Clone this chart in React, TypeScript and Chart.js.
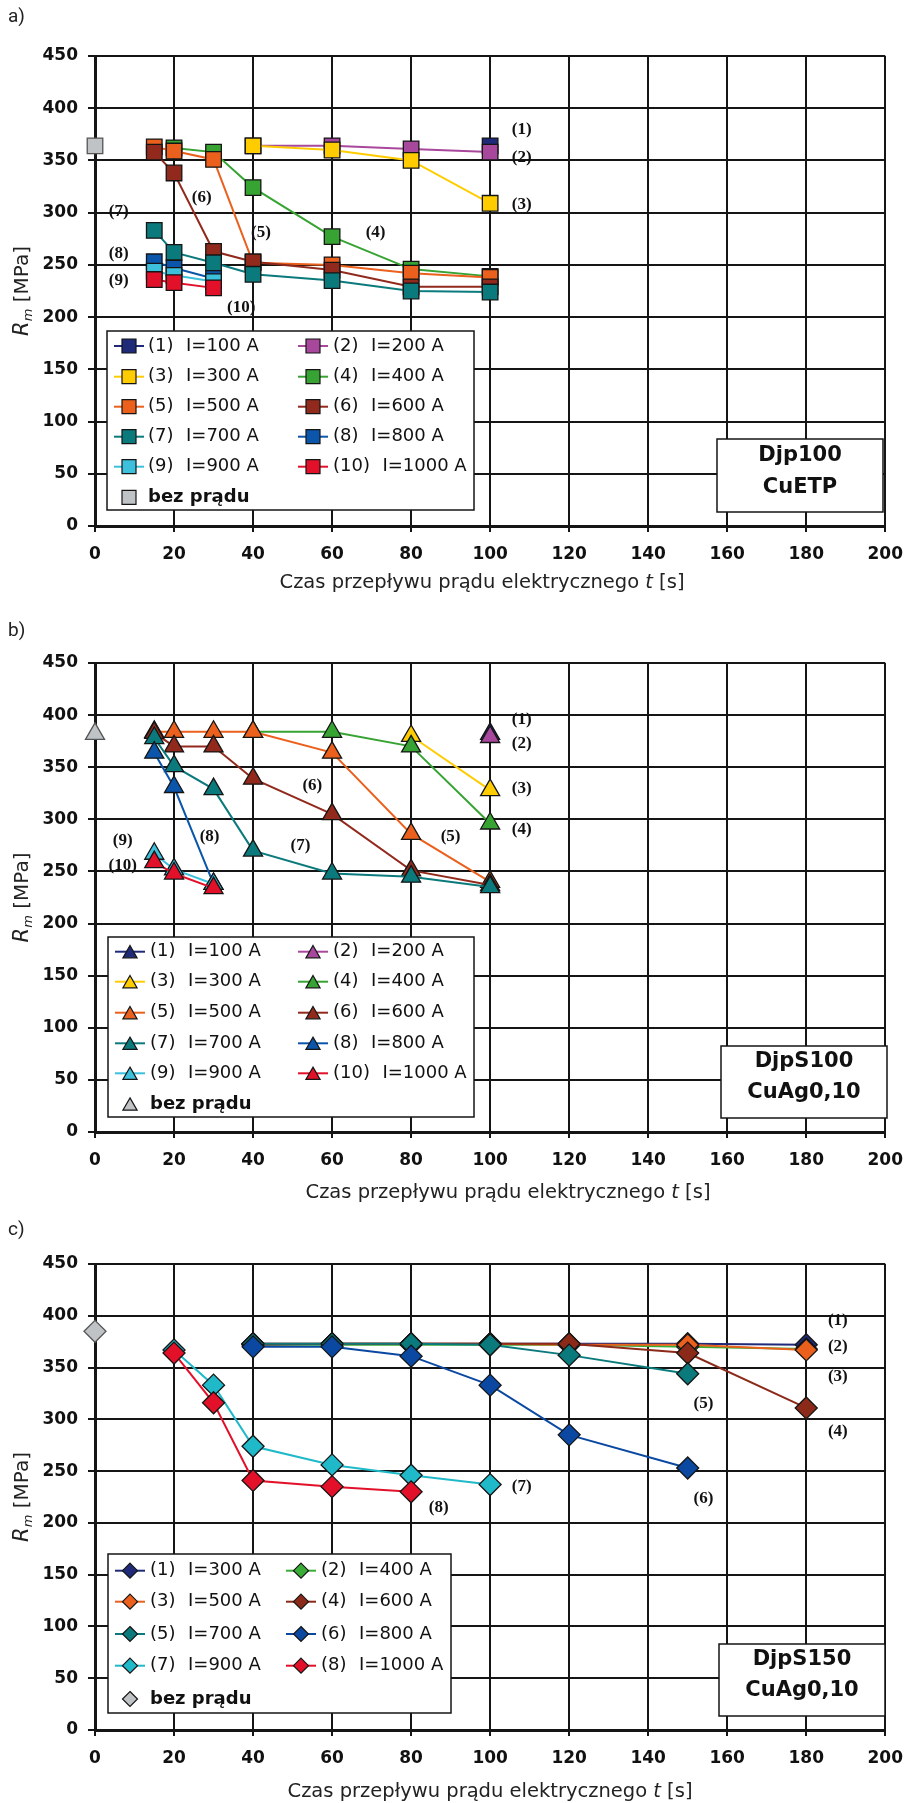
import React, { useEffect, useRef } from 'react';
import { Chart, registerables } from 'chart.js';

Chart.register(...registerables);

// ---------------- Panel a) Djp100 CuETP ----------------
const aTimes = [15, 20, 30, 40, 60, 80, 100];
const aI100 = [null, null, null, null, null, null, 364];
const aI200 = [null, null, null, 364, 364, 361, 358];
const aI300 = [null, null, null, 364, 360, 350, 309];
const aI400 = [null, 362, 358, 324, 277, 246, 239];
const aI500 = [363, 359, 351, 252, 250, 242, 238];
const aI600 = [358, 338, 263, 253, 245, 229, 229];
const aI700 = [283, 262, 252, 241, 235, 225, 224];
const aI800 = [253, 247, 237, null, null, null, null];
const aI900 = [244, 240, 234, null, null, null, null];
const aI1000 = [236, 233, 228, null, null, null, null];
const aBase = 364;
const aNums = ['(1)', '(2)', '(3)', '(4)', '(5)', '(6)', '(7)', '(8)', '(9)', '(10)'];
const aCurrents = ['I=100 A', 'I=200 A', 'I=300 A', 'I=400 A', 'I=500 A', 'I=600 A', 'I=700 A', 'I=800 A', 'I=900 A', 'I=1000 A'];
const aNoteT = [108, 108, 108, 71, 42, 27, 6, 6, 6, 37];
const aNoteR = [380, 353, 308, 281, 281, 314, 301, 261, 235, 209];

// ---------------- Panel b) DjpS100 CuAg0,10 ----------------
const bTimes = [15, 20, 30, 40, 60, 80, 100];
const bI100 = [null, null, null, null, null, null, 382];
const bI200 = [null, null, null, null, null, null, 379];
const bI300 = [null, null, null, null, null, 380, 328];
const bI400 = [null, null, null, 384, 384, 370, 296];
const bI500 = [384, 384, 384, 384, 364, 286, 240];
const bI600 = [383, 370, 370, 339, 305, 251, 237];
const bI700 = [378, 351, 329, 270, 248, 245, 235];
const bI800 = [364, 331, 238, null, null, null, null];
const bI900 = [267, 252, 238, null, null, null, null];
const bI1000 = [259, 248, 234, null, null, null, null];
const bBase = 382;
const bNums = aNums;
const bCurrents = aCurrents;
const bNoteT = [108, 108, 108, 108, 90, 55, 52, 29, 7, 7];
const bNoteR = [396, 373, 329, 290, 283, 332, 275, 283, 280, 256];

// ---------------- Panel c) DjpS150 CuAg0,10 ----------------
const cTimes = [20, 30, 40, 60, 80, 100, 120, 150, 180];
const cI300 = [null, null, 373, 373, 373, 373, 373, 373, 372];
const cI400 = [null, null, 372, 372, 372, 372, 372, 370, 368];
const cI500 = [null, null, 373, 373, 373, 373, 372, 372, 367];
const cI600 = [null, null, 372, 373, 373, 373, 373, 364, 311];
const cI700 = [null, null, 373, 373, 373, 372, 362, 344, null];
const cI800 = [null, null, 370, 370, 361, 333, 285, 253, null];
const cI900 = [367, 333, 274, 256, 246, 237, null, null, null];
const cI1000 = [364, 316, 241, 235, 230, null, null, null, null];
const cBase = 385;
const cNums = ['(1)', '(2)', '(3)', '(4)', '(5)', '(6)', '(7)', '(8)'];
const cCurrents = ['I=300 A', 'I=400 A', 'I=500 A', 'I=600 A', 'I=700 A', 'I=800 A', 'I=900 A', 'I=1000 A'];
const cNoteT = [188, 188, 188, 188, 154, 154, 108, 87];
const cNoteR = [395, 370, 341, 288, 315, 223, 235, 215];

const BASE_LABEL = 'bez prądu';
const X_TICK_MAX = 200;
const X_STEP = 20;
const Y_TICK_MAX = 450;
const Y_STEP = 50;

// ---------------- styles ----------------
const colors10 = ['#1f2a78', '#a8489c', '#ffcc00', '#36a332', '#ea601c', '#912a1c', '#0b7a7c', '#0b56aa', '#3cc0dc', '#e3102a'];
const colors8 = ['#1f2a78', '#3aad36', '#ea601c', '#8c2a1a', '#0b7a7c', '#0a48a2', '#1fb9c9', '#e3102a'];
const GRAY = '#c0c3c6';
const INK = '#151515';
const SANS = '"DejaVu Sans"';

type Cfg = {
  top: number; height: number; areaTop: number; areaBottom: number; areaRight: number;
  times: number[]; series: (number | null)[][]; colors: string[]; nums: string[]; currents: string[];
  base: number; pointStyle: string; noteT: number[]; noteR: number[];
  tag: string; tagY: number; mat: string[]; matBox: number[]; matLines: number[];
  legBox: number[]; legRows: number[]; legMarkX: number[]; legNumX: number[];
  xTitleX: number; xTitleY: number;
};

const panels: Cfg[] = [
  {
    top: 0, height: 600, areaTop: 56, areaBottom: 526, areaRight: 896,
    times: aTimes, series: [aI100, aI200, aI300, aI400, aI500, aI600, aI700, aI800, aI900, aI1000],
    colors: colors10, nums: aNums, currents: aCurrents, base: aBase, pointStyle: 'rect',
    noteT: aNoteT, noteR: aNoteR, tag: 'a)', tagY: 17, mat: ['Djp100', 'CuETP'],
    matBox: [717, 439, 883, 512], matLines: [456, 488],
    legBox: [107, 331, 474, 510], legRows: [346, 376.7, 406.7, 436.7, 466.7, 497.3], legMarkX: [129, 313], legNumX: [148, 333],
    xTitleX: 482, xTitleY: 583,
  },
  {
    top: 600, height: 610, areaTop: 63, areaBottom: 532, areaRight: 898,
    times: bTimes, series: [bI100, bI200, bI300, bI400, bI500, bI600, bI700, bI800, bI900, bI1000],
    colors: colors10, nums: bNums, currents: bCurrents, base: bBase, pointStyle: 'triangle',
    noteT: bNoteT, noteR: bNoteR, tag: 'b)', tagY: 31, mat: ['DjpS100', 'CuAg0,10'],
    matBox: [721, 446, 887, 518], matLines: [462, 493],
    legBox: [108, 337, 474, 517], legRows: [351.7, 381.7, 412.7, 443.3, 473.3, 504], legMarkX: [130, 313], legNumX: [150, 333],
    xTitleX: 508, xTitleY: 593,
  },
  {
    top: 1205, height: 598, areaTop: 59, areaBottom: 525, areaRight: 896,
    times: cTimes, series: [cI300, cI400, cI500, cI600, cI700, cI800, cI900, cI1000],
    colors: colors8, nums: cNums, currents: cCurrents, base: cBase, pointStyle: 'rectRot',
    noteT: cNoteT, noteR: cNoteR, tag: 'c)', tagY: 25, mat: ['DjpS150', 'CuAg0,10'],
    matBox: [719, 439, 885, 511], matLines: [455, 486],
    legBox: [108, 349, 451, 508], legRows: [365.7, 396.7, 429, 460.7, 494], legMarkX: [130, 301], legNumX: [150, 321],
    xTitleX: 490, xTitleY: 587,
  },
];

function drawMarker(ctx: CanvasRenderingContext2D, style: string, x: number, y: number, fill: string) {
  ctx.beginPath();
  if (style === 'rect') {
    const s = 7;
    ctx.rect(x - s, y - s, 2 * s, 2 * s);
  } else if (style === 'triangle') {
    const r = 8.2;
    const cy = y + r / 4;
    ctx.moveTo(x, cy - r);
    ctx.lineTo(x + 0.866 * r, cy + r / 2);
    ctx.lineTo(x - 0.866 * r, cy + r / 2);
    ctx.closePath();
  } else {
    const r = 7.5;
    ctx.moveTo(x, y - r);
    ctx.lineTo(x + r, y);
    ctx.lineTo(x, y + r);
    ctx.lineTo(x - r, y);
    ctx.closePath();
  }
  ctx.fillStyle = fill;
  ctx.fill();
  ctx.lineWidth = 1.2;
  ctx.strokeStyle = INK;
  ctx.stroke();
}

function decorPlugin(cfg: Cfg) {
  return {
    id: 'decor' + cfg.tag,
    afterDraw(chart: any) {
      const ctx: CanvasRenderingContext2D = chart.ctx;
      const xs = chart.scales.x;
      const ys = chart.scales.y;
      const area = chart.chartArea;
      ctx.save();
      ctx.fillStyle = '#222';
      ctx.textBaseline = 'middle';

      // panel tag
      ctx.textAlign = 'left';
      ctx.font = '19px Roboto';
      ctx.fillText(cfg.tag, 8, cfg.tagY);

      // curve annotations
      ctx.font = 'bold 17px "Liberation Serif"';
      ctx.textAlign = 'center';
      ctx.fillStyle = '#111';
      for (let i = 0; i < cfg.nums.length; i++) {
        ctx.fillText(cfg.nums[i], xs.getPixelForValue(cfg.noteT[i]), ys.getPixelForValue(cfg.noteR[i]));
      }

      // y axis title  R_m [MPa]
      ctx.save();
      ctx.translate(23, (area.top + area.bottom) / 2);
      ctx.rotate(-Math.PI / 2);
      ctx.textAlign = 'left';
      ctx.fillStyle = '#222';
      const fR = 'italic 21px ' + SANS, fm = 'italic 13px ' + SANS, fU = '20px ' + SANS;
      ctx.font = fR; const wR = ctx.measureText('R').width;
      ctx.font = fm; const wm = ctx.measureText('m').width;
      ctx.font = fU; const wU = ctx.measureText(' [MPa]').width;
      let px = -(wR + wm + wU) / 2;
      ctx.font = fR; ctx.fillText('R', px, 0); px += wR;
      ctx.font = fm; ctx.fillText('m', px, 6); px += wm;
      ctx.font = fU; ctx.fillText(' [MPa]', px, 0);
      ctx.restore();

      // x axis title
      {
        ctx.textAlign = 'left';
        ctx.fillStyle = '#222';
        const p1 = 'Czas przepływu prądu elektrycznego ', p2 = 't', p3 = ' [s]';
        const f1 = '19.5px ' + SANS, f2 = 'italic 19.5px ' + SANS;
        ctx.font = f1; const w1 = ctx.measureText(p1).width; const w3 = ctx.measureText(p3).width;
        ctx.font = f2; const w2 = ctx.measureText(p2).width;
        let x = cfg.xTitleX - (w1 + w2 + w3) / 2;
        ctx.font = f1; ctx.fillText(p1, x, cfg.xTitleY); x += w1;
        ctx.font = f2; ctx.fillText(p2, x, cfg.xTitleY); x += w2;
        ctx.font = f1; ctx.fillText(p3, x, cfg.xTitleY);
      }

      // legend
      {
        const [l, t, r, b] = cfg.legBox;
        ctx.fillStyle = '#fff';
        ctx.fillRect(l, t, r - l, b - t);
        ctx.lineWidth = 1.5;
        ctx.strokeStyle = INK;
        ctx.strokeRect(l, t, r - l, b - t);
        const ds = chart.data.datasets;
        for (let i = 0; i < cfg.nums.length; i++) {
          const col = i % 2, row = Math.floor(i / 2);
          const y = cfg.legRows[row];
          const mx = cfg.legMarkX[col];
          ctx.beginPath();
          ctx.moveTo(mx - 15, y);
          ctx.lineTo(mx + 15, y);
          ctx.strokeStyle = ds[i].borderColor;
          ctx.lineWidth = 2;
          ctx.stroke();
          drawMarker(ctx, cfg.pointStyle, mx, y, ds[i].pointBackgroundColor);
          ctx.fillStyle = '#111';
          ctx.textAlign = 'left';
          ctx.font = '18px ' + SANS;
          const nx = cfg.legNumX[col];
          ctx.fillText(cfg.nums[i], nx, y);
          const wn = ctx.measureText(cfg.nums[i]).width;
          ctx.fillText(cfg.currents[i], nx + wn + 12.5, y);
        }
        const by = cfg.legRows[Math.ceil(cfg.nums.length / 2)];
        drawMarker(ctx, cfg.pointStyle, cfg.legMarkX[0], by, GRAY);
        ctx.fillStyle = '#111';
        ctx.font = 'bold 18px ' + SANS;
        ctx.fillText(BASE_LABEL, cfg.legNumX[0], by);
      }

      // material box
      {
        const [l, t, r, b] = cfg.matBox;
        ctx.fillStyle = '#fff';
        ctx.fillRect(l, t, r - l, b - t);
        ctx.lineWidth = 1.5;
        ctx.strokeStyle = INK;
        ctx.strokeRect(l, t, r - l, b - t);
        ctx.fillStyle = '#111';
        ctx.textAlign = 'center';
        ctx.font = 'bold 21px ' + SANS;
        ctx.fillText(cfg.mat[0], (l + r) / 2, cfg.matLines[0]);
        ctx.fillText(cfg.mat[1], (l + r) / 2, cfg.matLines[1]);
      }
      ctx.restore();
    },
  };
}

function buildChart(canvas: HTMLCanvasElement, cfg: Cfg) {
  const n = cfg.series.length;
  const datasets: any[] = cfg.series.map((s, i) => ({
    label: cfg.nums[i] + ' ' + cfg.currents[i],
    data: cfg.times.map((t, j) => ({ x: t, y: s[j] })).filter((p) => p.y !== null),
    borderColor: cfg.colors[i],
    backgroundColor: cfg.colors[i],
    pointBackgroundColor: cfg.colors[i],
    pointBorderColor: INK,
    pointBorderWidth: 1.3,
    pointStyle: cfg.pointStyle,
    pointRadius: 11,
    borderWidth: 2,
    showLine: true,
    clip: false,
    order: n - i + 1,
  }));
  datasets.push({
    label: BASE_LABEL,
    data: [{ x: 0, y: cfg.base }],
    borderColor: GRAY,
    backgroundColor: GRAY,
    pointBackgroundColor: GRAY,
    pointBorderColor: '#555',
    pointBorderWidth: 1.3,
    pointStyle: cfg.pointStyle,
    pointRadius: 11,
    showLine: false,
    clip: false,
    order: 0,
  });
  const tickFont = { family: SANS, size: 17, weight: 'bold' as const };
  return new Chart(canvas, {
    type: 'scatter',
    data: { datasets },
    options: {
      animation: false,
      responsive: false,
      layout: { padding: { top: cfg.areaTop, right: 915 - cfg.areaRight, left: 0, bottom: 0 } },
      plugins: { legend: { display: false }, tooltip: { enabled: false } },
      scales: {
        x: {
          type: 'linear', min: 0, max: X_TICK_MAX,
          ticks: { stepSize: X_STEP, font: tickFont, color: '#111', padding: 12, maxRotation: 0, autoSkip: false },
          grid: { color: INK, lineWidth: 2, tickLength: 6 },
          border: { color: INK, width: 3 },
          afterFit: (s: any) => { s.height = cfg.height - cfg.areaBottom; },
        },
        y: {
          type: 'linear', min: 0, max: Y_TICK_MAX,
          ticks: { stepSize: Y_STEP, font: tickFont, color: '#111', padding: 10 },
          grid: { color: INK, lineWidth: 2, tickLength: 7 },
          border: { color: INK, width: 3 },
          afterFit: (s: any) => { s.width = 95; },
        },
      },
    },
    plugins: [decorPlugin(cfg)],
  } as any);
}

function Panel({ cfg }: { cfg: Cfg }) {
  const ref = useRef<HTMLCanvasElement | null>(null);
  useEffect(() => {
    if (!ref.current) return;
    const ch = buildChart(ref.current, cfg);
    return () => ch.destroy();
  }, [cfg]);
  return (
    <canvas
      ref={ref}
      width={915}
      height={cfg.height}
      style={{ position: 'absolute', left: 0, top: cfg.top, width: 915, height: cfg.height, display: 'block' }}
    />
  );
}

export default function App() {
  return (
    <div style={{ position: 'absolute', left: 0, top: 0, width: 915, height: 1803, background: '#fff', overflow: 'hidden' }}>
      {panels.map((p) => (
        <Panel key={p.tag} cfg={p} />
      ))}
    </div>
  );
}
